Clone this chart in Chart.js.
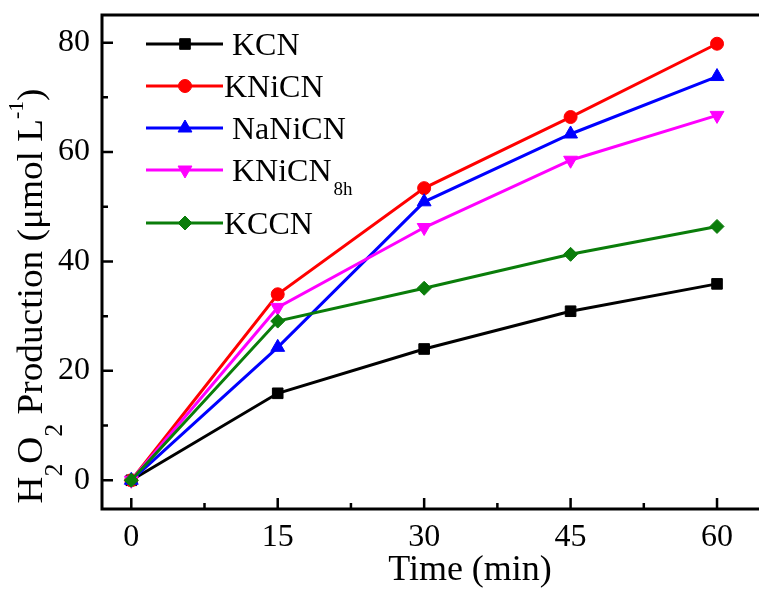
<!DOCTYPE html>
<html>
<head>
<meta charset="utf-8">
<script src="https://cdn.jsdelivr.net/npm/chart.js@4"></script>
<style>
  html, body { margin: 0; padding: 0; background: #fff; overflow: hidden; }
  #wrap { width: 759px; height: 590px; }
</style>
</head>
<body>
<div id="wrap"><canvas id="h2o2Chart" width="759" height="590"></canvas></div>
<script>
"use strict";

// data
let times = [0, 15, 30, 45, 60];
let kcn = [0, 15.9, 24.0, 30.9, 35.9];
let kniCn = [0, 34.0, 53.4, 66.4, 79.8];
let naNiCn = [0, 24.3, 50.9, 63.3, 73.8];
let kniCn8h = [0, 31.6, 46.2, 58.5, 66.7];
let kccn = [0, 29.1, 35.1, 41.3, 46.4];
let xTicks = [0, 15, 30, 45, 60];
let yTicks = [0, 20, 40, 60, 80];
let xMinorTicks = [7.5, 22.5, 37.5, 52.5];
let yMinorTicks = [10, 30, 50, 70];

const SERIF = "'Liberation Serif', 'Times New Roman', serif";

let toPoints = ys => times.map((t, i) => ({ x: t, y: ys[i] }));

let makeSet = (label, ys, color, style, radius, rotation, order, sub) => ({
  label: label,
  sub: sub,
  data: toPoints(ys),
  borderColor: color,
  backgroundColor: color,
  borderWidth: 3,
  pointStyle: style,
  pointRadius: radius,
  pointRotation: rotation,
  pointBorderWidth: 1,
  pointBorderColor: color,
  pointBackgroundColor: color,
  order: order,
  tension: 0
});

// legend entries drawn by hand (line + marker, subscript on one of them)
let legendLayout = [
  { y: 44, textX: 232 },
  { y: 86, textX: 224 },
  { y: 128, textX: 232 },
  { y: 170, textX: 232 },
  { y: 223, textX: 224 }
];

function drawMarker(ctx, ds, x, y) {
  let opts = {
    pointStyle: ds.pointStyle,
    radius: ds.pointRadius,
    rotation: ds.pointRotation,
    borderWidth: 1
  };
  ctx.fillStyle = ds.pointBackgroundColor;
  ctx.strokeStyle = ds.pointBorderColor;
  ctx.lineWidth = 1;
  Chart.helpers.drawPoint(ctx, opts, x, y);
}

let framePlugin = {
  id: "frame",
  afterDraw(chart) {
    let ctx = chart.ctx;
    let area = chart.chartArea;
    let xs = chart.scales.x;
    let ys = chart.scales.y;
    ctx.save();
    ctx.strokeStyle = "#000";
    ctx.lineCap = "butt";

    // frame: left, top, bottom (right side runs off the picture)
    ctx.lineWidth = 3;
    ctx.beginPath();
    ctx.moveTo(area.right, area.top);
    ctx.lineTo(area.left, area.top);
    ctx.lineTo(area.left, area.bottom);
    ctx.lineTo(area.right, area.bottom);
    ctx.stroke();

    // inward tick marks
    ctx.lineWidth = 2.5;
    ctx.beginPath();
    for (let v of xTicks) {
      let px = xs.getPixelForValue(v);
      ctx.moveTo(px, area.bottom);
      ctx.lineTo(px, area.bottom - 11);
    }
    for (let v of xMinorTicks) {
      let px = xs.getPixelForValue(v);
      ctx.moveTo(px, area.bottom);
      ctx.lineTo(px, area.bottom - 6);
    }
    for (let v of yTicks) {
      let py = ys.getPixelForValue(v);
      ctx.moveTo(area.left, py);
      ctx.lineTo(area.left + 11, py);
    }
    for (let v of yMinorTicks) {
      let py = ys.getPixelForValue(v);
      ctx.moveTo(area.left, py);
      ctx.lineTo(area.left + 6, py);
    }
    ctx.stroke();

    // legend
    chart.data.datasets.forEach((ds, i) => {
      let lay = legendLayout[i];
      ctx.strokeStyle = ds.borderColor;
      ctx.lineWidth = 3;
      ctx.beginPath();
      ctx.moveTo(146, lay.y);
      ctx.lineTo(223, lay.y);
      ctx.stroke();
      drawMarker(ctx, ds, 185, lay.y);
      ctx.fillStyle = "#000";
      ctx.textAlign = "left";
      ctx.textBaseline = "alphabetic";
      ctx.font = "32px " + SERIF;
      ctx.fillText(ds.label, lay.textX, lay.y + 11);
      if (ds.sub) {
        let w = ctx.measureText(ds.label).width;
        ctx.font = "19px " + SERIF;
        ctx.fillText(ds.sub, lay.textX + w + 2, lay.y + 25);
      }
    });

    // x title
    ctx.fillStyle = "#000";
    ctx.font = "36px " + SERIF;
    ctx.textAlign = "center";
    ctx.fillText("Time (min)", 470, 580);

    // y title with sub/superscripts, rotated
    let parts = [
      { t: "H", size: 36, dy: 0 },
      { t: "2", size: 25, dy: 20 },
      { t: "O", size: 36, dy: 0 },
      { t: "2", size: 25, dy: 20 },
      { t: " Production (\u03bcmol L", size: 36, dy: 0 },
      { t: "-1", size: 21, dy: -19 },
      { t: ")", size: 36, dy: 0 }
    ];
    let total = 0;
    for (let p of parts) {
      ctx.font = p.size + "px " + SERIF;
      p.w = ctx.measureText(p.t).width;
      total += p.w;
    }
    let stretch = 415 / total;
    ctx.translate(42, 296);
    ctx.rotate(-Math.PI / 2);
    ctx.scale(stretch, 1);
    ctx.textAlign = "left";
    let cx = -total / 2;
    for (let p of parts) {
      ctx.font = p.size + "px " + SERIF;
      ctx.fillText(p.t, cx, p.dy);
      cx += p.w;
    }
    ctx.restore();
  }
};

let chartEl = document.querySelector("#h2o2Chart");
let h2o2Chart = new Chart(chartEl, {
  type: "line",
  data: {
    datasets: [
      makeSet("KCN", kcn, "#000000", "rect", 7.5, 0, 4),
      makeSet("KNiCN", kniCn, "#ff0000", "circle", 6.5, 0, 3),
      makeSet("NaNiCN", naNiCn, "#0000ff", "triangle", 8, 0, 2),
      makeSet("KNiCN", kniCn8h, "#ff00ff", "triangle", 8, 180, 1, "8h"),
      makeSet("KCCN", kccn, "#0a7d0a", "rectRot", 7, 0, 0)
    ]
  },
  options: {
    responsive: false,
    animation: false,
    layout: { autoPadding: false, padding: { top: 15, right: 0, bottom: 0, left: 0 } },
    plugins: {
      legend: { display: false },
      tooltip: { enabled: false }
    },
    scales: {
      x: {
        type: "linear",
        min: -3,
        max: 64.3,
        afterBuildTicks: scale => { scale.ticks = xTicks.map(v => ({ value: v })); },
        afterFit: scale => {
          scale.height = 81;
          scale.paddingLeft = 0;
          scale.paddingRight = 0;
        },
        grid: { display: false, drawTicks: false },
        border: { display: false },
        ticks: {
          color: "#000",
          padding: 9,
          maxRotation: 0,
          font: { family: SERIF, size: 32 }
        }
      },
      y: {
        type: "linear",
        min: -5.25,
        max: 85.05,
        afterBuildTicks: scale => { scale.ticks = yTicks.map(v => ({ value: v })); },
        afterFit: scale => {
          scale.width = 102;
          scale.paddingTop = 0;
          scale.paddingBottom = 0;
        },
        grid: { display: false, drawTicks: false },
        border: { display: false },
        ticks: {
          color: "#000",
          padding: 12,
          font: { family: SERIF, size: 32 }
        }
      }
    }
  },
  plugins: [framePlugin]
});
</script>
</body>
</html>
